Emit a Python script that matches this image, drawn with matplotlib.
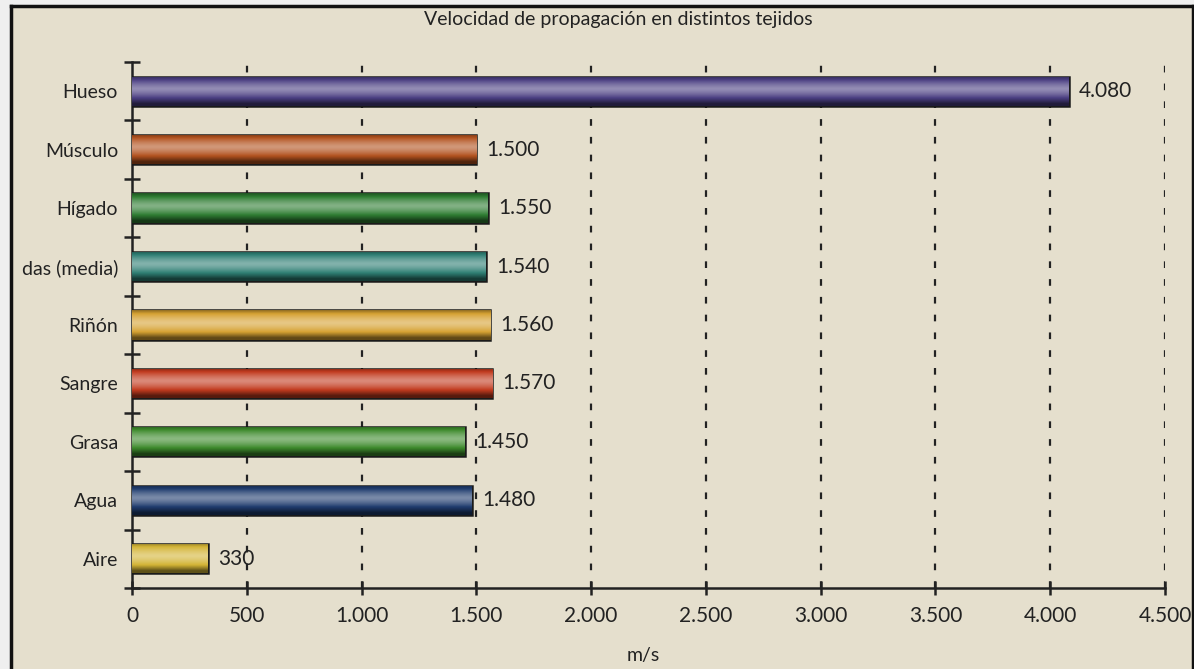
import matplotlib.pyplot as plt
import numpy as np
from matplotlib.colors import LinearSegmentedColormap, to_rgb

tejidos = ['Hueso', 'Músculo', 'Hígado', 'das (media)', 'Riñón', 'Sangre', 'Grasa', 'Agua', 'Aire']
velocidades = [4080, 1500, 1550, 1540, 1560, 1570, 1450, 1480, 330]
colores = ['#4b3f82', '#b2521f', '#2f7d33', '#2f7f74', '#d6a233', '#c23b1f', '#3d8a2c', '#1f3c6e', '#d3b436']
x_ticks = [0, 500, 1000, 1500, 2000, 2500, 3000, 3500, 4000, 4500]

papel = '#e5dfcd'


def miles(v):
    return f'{v:,}'.replace(',', '.')


def mezcla(c, otro, f):
    c = np.array(to_rgb(c))
    return tuple(c * (1 - f) + np.array(to_rgb(otro)) * f)


plt.rcParams['font.family'] = ['Lato', 'DejaVu Sans']

fig = plt.figure(figsize=(11.94, 6.69), dpi=100)
fig.patch.set_facecolor('#efefef')
# marco negro de la foto
fondo = fig.add_axes([0.009, -0.05, 0.99, 1.041])
fondo.set_facecolor(papel)
fondo.set_xticks([])
fondo.set_yticks([])
for s in fondo.spines.values():
    s.set_linewidth(2.5)
    s.set_color('#111111')

ax = fig.add_axes([132 / 1194, 1 - 588 / 669, (1165 - 132) / 1194, (588 - 62) / 669])
ax.set_facecolor('none')

y = np.arange(len(tejidos))
bars = ax.barh(y, velocidades, height=0.5, color=colores, edgecolor='#1a1a1a', linewidth=1.8, zorder=3)

# brillo cilindrico en cada barra
t = np.linspace(-1, 1, 80)
grad = 1 - np.abs(t + 0.15) ** 1.4
for b, c in zip(bars, colores):
    cmap = LinearSegmentedColormap.from_list('g', [mezcla(c, 'black', 0.55), c, mezcla(c, 'white', 0.4)])
    im = ax.imshow(grad[:, None], aspect='auto', cmap=cmap, vmin=0, vmax=1,
                   extent=(b.get_x(), b.get_x() + b.get_width(), b.get_y() + b.get_height(), b.get_y()),
                   zorder=3.5)
    im.set_clip_path(b)

for v, yy in zip(velocidades, y):
    ax.text(v + 45, yy, miles(v), va='center', ha='left', fontsize=15, color='#222222', zorder=4)

ax.set_xlim(0, 4500)
ax.set_ylim(len(tejidos) - 0.5, -0.5)
ax.set_xticks(x_ticks)
ax.set_xticklabels([miles(t) for t in x_ticks], fontsize=15, color='#222222')
ax.set_yticks(y)
ax.set_yticklabels(tejidos, fontsize=14, color='#222222')
ax.set_yticks(np.arange(len(tejidos) + 1) - 0.5, minor=True)
ax.tick_params(axis='y', which='major', length=0, pad=10)
ax.tick_params(axis='y', which='minor', length=12, width=1.8, direction='inout', color='#222222')
ax.tick_params(axis='x', length=10, width=1.8, direction='inout', pad=8, color='#222222')

for t in x_ticks[1:]:
    ax.axvline(t, color='#222222', linestyle=(0, (3, 5)), linewidth=1.6, zorder=1)

for side in ['top', 'right']:
    ax.spines[side].set_visible(False)
ax.spines['left'].set_linewidth(1.8)
ax.spines['bottom'].set_linewidth(1.8)
ax.spines['left'].set_color('#222222')
ax.spines['bottom'].set_color('#222222')

fig.text(618 / 1194, 1 - 20 / 669, 'Velocidad de propagación en distintos tejidos',
         ha='center', va='center', fontsize=14, color='#222222')
fig.text(643 / 1194, 1 - 656 / 669, 'm/s', ha='center', va='center', fontsize=14, color='#222222')

fig.savefig('out.png', dpi=100, facecolor=fig.get_facecolor())
